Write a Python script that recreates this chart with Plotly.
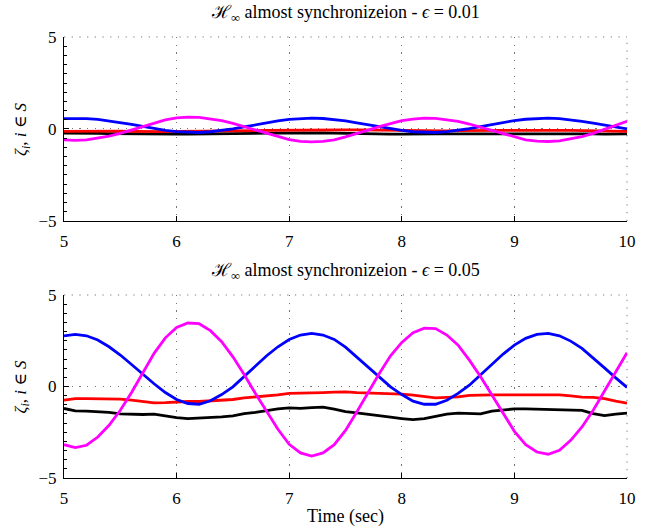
import plotly.graph_objects as go
from plotly.subplots import make_subplots

t = [round(5 + 0.1 * i, 1) for i in range(51)]

# Top panel (epsilon = 0.01)
top_blue = [0.56, 0.58, 0.56, 0.52, 0.44, 0.35, 0.25, 0.14, 0.02, -0.07, -0.14, -0.18, -0.19, -0.15, -0.08, 0.0,
            0.11, 0.23, 0.34, 0.44, 0.52, 0.57, 0.59, 0.57, 0.52, 0.44, 0.33, 0.22, 0.11, 0.0, -0.08, -0.15, -0.19,
            -0.19, -0.14, -0.07, 0.02, 0.13, 0.25, 0.36, 0.46, 0.53, 0.58, 0.59, 0.56, 0.50, 0.42, 0.32, 0.21, 0.10, 0.0]
top_magenta = [-0.59, -0.62, -0.59, -0.51, -0.39, -0.24, -0.06, 0.14, 0.33, 0.49, 0.60, 0.64, 0.63, 0.56, 0.45, 0.30,
               0.12, -0.07, -0.26, -0.43, -0.58, -0.67, -0.70, -0.67, -0.59, -0.43, -0.26, -0.06, 0.13, 0.31, 0.45,
               0.54, 0.59, 0.58, 0.52, 0.42, 0.27, 0.10, -0.09, -0.27, -0.45, -0.59, -0.66, -0.68, -0.65, -0.54, -0.41,
               -0.24, -0.03, 0.20, 0.42]
top_red = [-0.13, -0.12, -0.12, -0.12, -0.12, -0.12, -0.13, -0.14, -0.14, -0.14, -0.13, -0.13, -0.13, -0.12, -0.11,
           -0.11, -0.10, -0.09, -0.08, -0.07, -0.06, -0.06, -0.06, -0.05, -0.05, -0.05, -0.05, -0.06, -0.06, -0.07,
           -0.07, -0.08, -0.09, -0.10, -0.10, -0.09, -0.08, -0.08, -0.08, -0.08, -0.08, -0.07, -0.07, -0.07, -0.08,
           -0.08, -0.09, -0.10, -0.10, -0.12, -0.13]
top_black = [-0.22, -0.24, -0.24, -0.24, -0.25, -0.26, -0.26, -0.26, -0.26, -0.27, -0.28, -0.28, -0.28, -0.27, -0.27,
             -0.26, -0.25, -0.24, -0.23, -0.22, -0.22, -0.22, -0.21, -0.21, -0.22, -0.24, -0.25, -0.26, -0.27, -0.28,
             -0.28, -0.29, -0.28, -0.27, -0.26, -0.26, -0.26, -0.26, -0.25, -0.24, -0.23, -0.23, -0.23, -0.23, -0.24,
             -0.24, -0.25, -0.27, -0.28, -0.27, -0.27]

# Bottom panel (epsilon = 0.05)
bot_blue = [2.76, 2.85, 2.77, 2.54, 2.17, 1.72, 1.20, 0.66, 0.15, -0.33, -0.71, -0.93, -0.97, -0.78, -0.44, -0.02,
            0.53, 1.11, 1.68, 2.17, 2.57, 2.81, 2.90, 2.81, 2.57, 2.15, 1.62, 1.08, 0.53, -0.02, -0.44, -0.80, -0.97,
            -0.97, -0.75, -0.38, 0.07, 0.62, 1.20, 1.77, 2.26, 2.63, 2.85, 2.90, 2.77, 2.48, 2.08, 1.57, 1.02, 0.47,
            -0.05]
bot_magenta = [-3.18, -3.34, -3.21, -2.76, -2.12, -1.30, -0.33, 0.77, 1.81, 2.66, 3.23, 3.47, 3.43, 3.05, 2.45, 1.62,
               0.66, -0.38, -1.39, -2.34, -3.16, -3.63, -3.80, -3.63, -3.18, -2.40, -1.39, -0.33, 0.71, 1.68, 2.41,
               2.94, 3.19, 3.16, 2.81, 2.26, 1.44, 0.53, -0.47, -1.48, -2.45, -3.18, -3.58, -3.70, -3.49, -2.94, -2.21,
               -1.30, -0.26, 0.80, 1.84]
bot_red = [-0.75, -0.66, -0.66, -0.66, -0.69, -0.69, -0.75, -0.84, -0.89, -0.88, -0.84, -0.82, -0.82, -0.78, -0.73,
           -0.71, -0.62, -0.58, -0.53, -0.46, -0.38, -0.35, -0.36, -0.33, -0.31, -0.29, -0.33, -0.35, -0.38, -0.40,
           -0.42, -0.47, -0.53, -0.62, -0.60, -0.57, -0.49, -0.46, -0.46, -0.46, -0.46, -0.42, -0.42, -0.42, -0.46,
           -0.51, -0.58, -0.60, -0.66, -0.80, -0.91]
bot_black = [-1.20, -1.33, -1.35, -1.39, -1.41, -1.50, -1.53, -1.53, -1.51, -1.61, -1.70, -1.75, -1.73, -1.68, -1.66,
             -1.61, -1.48, -1.42, -1.30, -1.22, -1.17, -1.19, -1.15, -1.13, -1.24, -1.37, -1.44, -1.53, -1.61, -1.68,
             -1.75, -1.81, -1.75, -1.61, -1.51, -1.46, -1.46, -1.50, -1.35, -1.30, -1.22, -1.22, -1.24, -1.24, -1.26,
             -1.28, -1.31, -1.48, -1.59, -1.51, -1.46]

x_ticks = [5, 6, 7, 8, 9, 10]
y_ticks = [-5, 0, 5]
titles = ["ℋ<sub>∞</sub> almost synchronizeion - <i>ϵ</i> = 0.01",
          "ℋ<sub>∞</sub> almost synchronizeion - <i>ϵ</i> = 0.05"]
ylabel = "<i>ζ<sub>i</sub></i>, <i>i</i> ∈ <i>S</i>"
xlabel = "Time (sec)"

FONT = "Liberation Serif, DejaVu Serif, serif"
GRID_COLOR = "#777777"
GRID_DASH = "1.2px,6.5px"

fig = make_subplots(rows=2, cols=1, vertical_spacing=0.1672)

colors = ["#0000FF", "#FF00FF", "#FF0000", "#000000"]
panels = [(top_blue, top_magenta, top_red, top_black), (bot_blue, bot_magenta, bot_red, bot_black)]
order = [3, 2, 0, 1]  # draw black, red, blue, magenta
for r, series in enumerate(panels, start=1):
    for k in order:
        fig.add_trace(go.Scatter(x=t, y=series[k], mode="lines",
                                 line=dict(color=colors[k], width=2.8),
                                 showlegend=False, hoverinfo="skip"), row=r, col=1)

axis_common = dict(showline=True, linecolor="black", linewidth=1, mirror=False, automargin=False,
                   showgrid=True, gridcolor=GRID_COLOR, griddash=GRID_DASH, gridwidth=1,
                   ticks="inside", ticklen=5, tickcolor="black", zeroline=False,
                   tickfont=dict(family=FONT, size=17, color="black"))

fig.update_layout(
    width=651, height=529,
    margin=dict(l=64, r=24, t=37, b=51),
    plot_bgcolor="white", paper_bgcolor="white",
    font=dict(family=FONT, color="black"),
    yaxis=dict(domain=[0.5828, 1.0]),
    yaxis2=dict(domain=[0.0, 0.415]),
)
for r in (1, 2):
    fig.update_xaxes(range=[5, 10], tickvals=x_ticks, row=r, col=1, ticklabelstandoff=5, **axis_common)
    fig.update_yaxes(range=[-5, 5], tickvals=y_ticks, row=r, col=1, ticklabelstandoff=3,
                     minor=dict(ticks="inside", ticklen=3, dtick=0.5, tickcolor="black", showgrid=False),
                     **axis_common)
fig.update_xaxes(title=dict(text=xlabel, font=dict(family=FONT, size=18), standoff=1), row=2, col=1)

# y-axis labels, rotated, left of each panel
for yr in ("y", "y2"):
    fig.add_annotation(text=ylabel, textangle=-90, xref="paper", x=-0.0746, xanchor="center",
                       yref=f"{yr} domain", y=0.5, yanchor="middle", showarrow=False,
                       font=dict(family=FONT, size=17))

# dotted grid lines at the upper and right edges of each panel (grid at y=5 and x=10)
for xr, yr in (("x", "y"), ("x2", "y2")):
    fig.add_shape(type="line", xref=f"{xr} domain", yref=f"{yr} domain", x0=0, x1=1, y0=1, y1=1,
                  line=dict(color=GRID_COLOR, width=1, dash=GRID_DASH), layer="below")
    fig.add_shape(type="line", xref=f"{xr} domain", yref=f"{yr} domain", x0=1, x1=1, y0=0, y1=1,
                  line=dict(color=GRID_COLOR, width=1, dash=GRID_DASH), layer="below")

fig.add_annotation(text=titles[0], x=0.5, xref="x domain", y=1.0, yref="y domain", yanchor="bottom", yshift=10,
                   showarrow=False, font=dict(family=FONT, size=18))
fig.add_annotation(text=titles[1], x=0.5, xref="x2 domain", y=1.0, yref="y2 domain", yanchor="bottom", yshift=10,
                   showarrow=False, font=dict(family=FONT, size=18))

fig.write_html("out.html", config={"displayModeBar": False},
               post_script="document.body.style.margin='0';")
